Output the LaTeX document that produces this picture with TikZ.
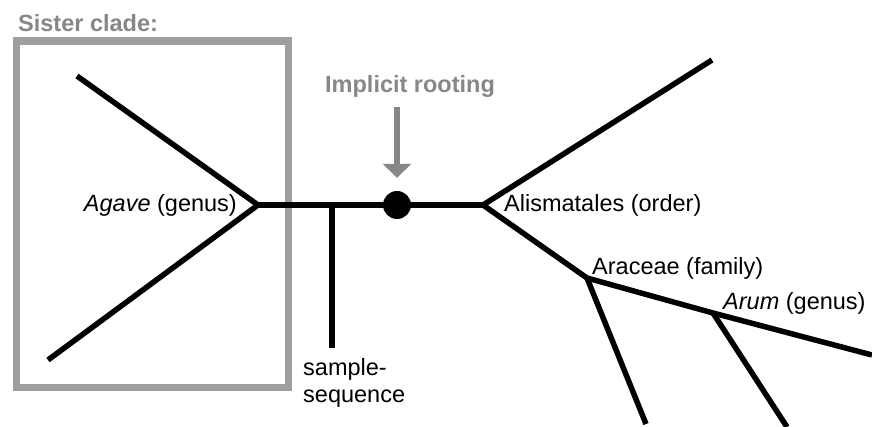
\documentclass[tikz,border=0pt]{standalone}
\usepackage{fontspec}
\setmainfont{Liberation Sans}
\usetikzlibrary{positioning,arrows.meta}
\definecolor{boxgray}{gray}{0.62}
\definecolor{notegray}{gray}{0.53}

\begin{document}
\begin{tikzpicture}[x=1pt,y=-1pt,font=\fontsize{23.5}{27}\selectfont]
    \tikzset{
        branch/.style = {line width=5.5pt},
        taxon/.style = {inner sep=0pt, node distance=21pt},
        note/.style = {inner sep=0pt, text=notegray, font=\fontsize{23.5}{27}\selectfont\bfseries},
    }
    \useasboundingbox (0,0) rectangle (872,427);

    % sister clade frame
    \draw[boxgray, line width=7.5pt] (16.5,41) rectangle (288.5,387.5);
    \node [note, anchor=base west] (sisterlabel) at (18,32) {Sister clade:};

    % branch points and tips
    \coordinate (agave) at (258,205);
    \coordinate (agaveup) at (77,76);
    \coordinate (agavedown) at (48,360);
    \coordinate (samplejoin) at (332,205);
    \coordinate (sampletip) at (332,348);
    \coordinate (alis) at (483,205);
    \coordinate (alisup) at (712,60);
    \coordinate (araceae) at (587,278);
    \coordinate (araceaetip) at (646,424);
    \coordinate (arum) at (713,313);
    \coordinate (arumtip) at (787,427);
    \coordinate (arumright) at (872,355);

    \draw[branch] (agaveup) -- (agave) -- (agavedown);
    \draw[branch] (agave) -- (alis);
    \draw[branch] (samplejoin) -- (sampletip);
    \draw[branch] (alisup) -- (alis) -- (araceae) -- (arum) -- (arumright);
    \draw[branch] (araceae) -- (araceaetip);
    \draw[branch] (arum) -- (arumtip);

    \node [circle, fill, inner sep=0pt, minimum size=28pt] (root) at (397,205) {};

    % labels
    \node [taxon, left=of agave] (agavelabel) {\textit{Agave} (genus)};
    \node [taxon, right=of alis] (alislabel) {Alismatales (order)};
    \node [taxon, anchor=base west] (aracealabel) at ([shift={(5,-3)}]araceae) {Araceae (family)};
    \node [taxon, anchor=base west] (arumlabel) at ([shift={(10,-3)}]arum) {\textit{Arum} (genus)};
    \node [taxon, align=left, anchor=north west] (samplelabel) at (303,358) {sample-\\sequence};

    % rooting note
    \node [note, anchor=base west] (rootlabel) at (325,93) {Implicit rooting};
    \coordinate (rootnote) at (397,107);
    \draw[-{Triangle[width=28pt,length=14pt]}, notegray, line width=6pt, shorten >=13pt] (rootnote) -- (root);
\end{tikzpicture}
\end{document}
